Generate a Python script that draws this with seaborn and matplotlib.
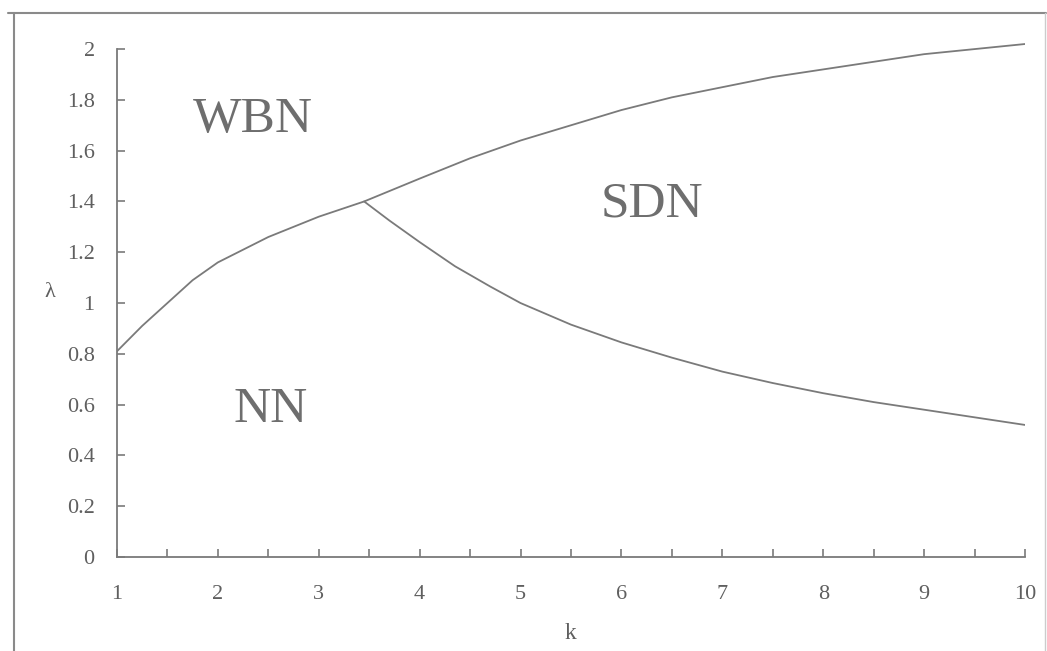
import matplotlib
matplotlib.use('Agg')
import matplotlib.pyplot as plt
import matplotlib.lines as mlines
import seaborn as sns
import pandas as pd
import numpy as np

# boundary WBN / (NN, SDN)
k_upper = [1.0, 1.25, 1.5, 1.75, 2.0, 2.5, 3.0, 3.45, 4.0, 4.5, 5.0, 5.5, 6.0, 6.5, 7.0, 7.5, 8.0, 8.5, 9.0, 9.5, 10.0]
lam_upper = [0.81, 0.91, 1.00, 1.09, 1.16, 1.26, 1.34, 1.40, 1.49, 1.57, 1.64, 1.70, 1.76, 1.81, 1.85, 1.89, 1.92, 1.95, 1.98, 2.00, 2.02]

# boundary NN / SDN
k_lower = [3.45, 3.7, 4.0, 4.35, 4.7, 5.0, 5.5, 6.0, 6.5, 7.0, 7.5, 8.0, 8.5, 9.0, 9.5, 10.0]
lam_lower = [1.40, 1.325, 1.24, 1.145, 1.065, 1.0, 0.915, 0.845, 0.785, 0.73, 0.685, 0.645, 0.61, 0.58, 0.55, 0.52]

regions = ['WBN', 'SDN', 'NN']
region_k = [2.35, 6.3, 2.52]
region_lam = [1.72, 1.39, 0.58]

x_ticks = [1, 2, 3, 4, 5, 6, 7, 8, 9, 10]
y_ticks = [0, 0.2, 0.4, 0.6, 0.8, 1, 1.2, 1.4, 1.6, 1.8, 2]
y_labels = ['0', '0.2', '0.4', '0.6', '0.8', '1', '1.2', '1.4', '1.6', '1.8', '2']

sns.set_style('white')
plt.rcParams['font.family'] = ['Liberation Serif', 'DejaVu Serif']

grey = '#7a7a7a'
upper = pd.DataFrame({'k': k_upper, 'lam': lam_upper})
lower = pd.DataFrame({'k': k_lower, 'lam': lam_lower})

fig = plt.figure(figsize=(10.47, 6.51), dpi=100)
ax = fig.add_axes([0.1117, 0.1444, 0.8673, 0.8036])

sns.lineplot(x='k', y='lam', data=upper, color=grey, linewidth=1.3, ax=ax)
sns.lineplot(x='k', y='lam', data=lower, color=grey, linewidth=1.3, ax=ax)

for name, kx, ly in zip(regions, region_k, region_lam):
    ax.text(kx, ly, name, fontsize=37, color='#6e6e6e', ha='center', va='center')

ax.set_xlim(1, 10)
ax.set_ylim(0, 2.06)
sns.despine(ax=ax)
ax.spines['left'].set_bounds(0, 2)
for s in ['left', 'bottom']:
    ax.spines[s].set_color(grey)
    ax.spines[s].set_linewidth(1.3)

ax.set_xticks(x_ticks)
ax.set_xticks(np.arange(1.5, 10, 1.0), minor=True)
ax.set_yticks(y_ticks)
ax.set_yticklabels(y_labels)
ax.tick_params(axis='both', which='both', direction='in', length=6, width=1.2, color=grey,
               labelcolor='#5f5f5f', labelsize=16, bottom=True, left=True)
ax.tick_params(axis='x', pad=20)
ax.tick_params(axis='y', pad=16)

ax.set_xlabel('k', fontsize=17, color='#5f5f5f', labelpad=14)
ax.set_ylabel('λ', fontsize=16, color='#5f5f5f', rotation=0)
ax.yaxis.set_label_coords(-0.074, 0.487)

# scanned frame around the figure
fig.add_artist(mlines.Line2D([0.008, 0.999], [0.980, 0.980], color='#8a8a8a', linewidth=1.5))
fig.add_artist(mlines.Line2D([0.013, 0.013], [0.980, 0.0], color='#8a8a8a', linewidth=1.5))
fig.add_artist(mlines.Line2D([0.998, 0.998], [0.980, 0.0], color='#cccccc', linewidth=1.0))

fig.savefig('out.png', dpi=100)
